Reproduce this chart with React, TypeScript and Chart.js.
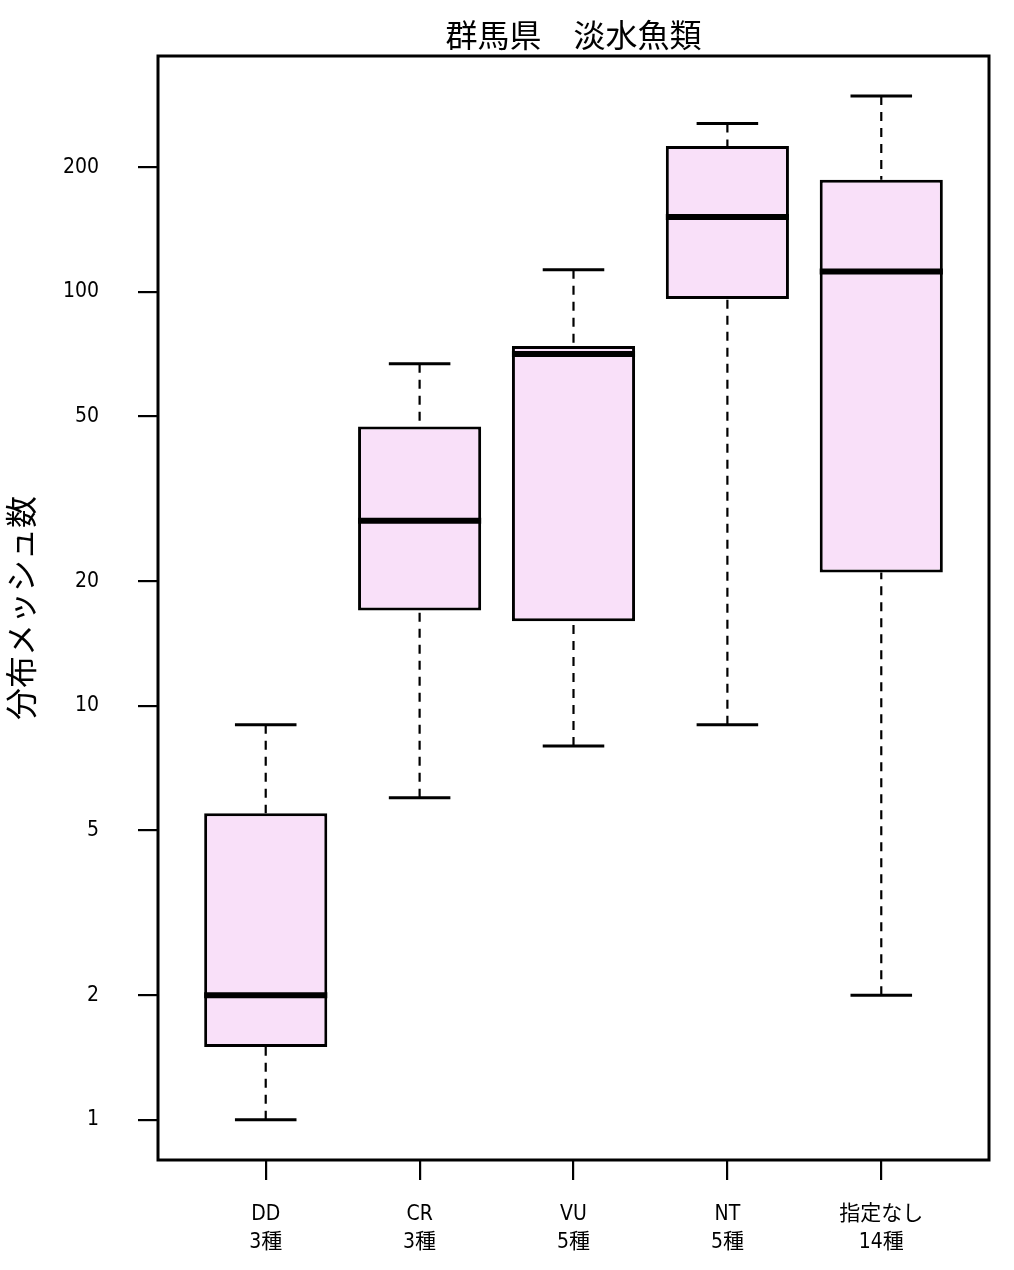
import React, { useEffect, useRef } from "react";
import { Chart, registerables } from "chart.js";

Chart.register(...registerables);

const categories = ["DD", "CR", "VU", "NT", "指定なし"];
const speciesCounts = ["3種", "3種", "5種", "5種", "14種"];
const whiskerLow = [1, 6, 8, 9, 2];
const q1 = [1.5, 17, 16, 96, 21];
const median = [2, 28, 70.7, 151.5, 112];
const q3 = [5.5, 47.3, 74, 225, 186.5];
const whiskerHigh = [9, 67, 113, 255, 297];
const yTicks = [1, 2, 5, 10, 20, 50, 100, 200];

const title = "群馬県　淡水魚類";
const yTitle = "分布メッシュ数";

const NARROW = "'Liberation Sans Narrow', 'DejaVu Sans Condensed', 'Noto Sans CJK JP', sans-serif";
const CJK = "'Noto Sans CJK JP', sans-serif";

const boxPlugin = {
  id: "boxExtras",
  afterDatasetsDraw(chart: any) {
    const { ctx, scales, chartArea } = chart;
    const xs = scales.x;
    const ys = scales.y;
    const meta = chart.getDatasetMeta(0);
    ctx.save();
    ctx.strokeStyle = "#000";
    categories.forEach((_, i) => {
      const x = xs.getPixelForValue(i + 1);
      const bar = meta.data[i];
      const half = bar ? bar.width / 2 : 60;
      const yLo = ys.getPixelForValue(whiskerLow[i]);
      const yQ1 = ys.getPixelForValue(q1[i]);
      const yQ3 = ys.getPixelForValue(q3[i]);
      const yHi = ys.getPixelForValue(whiskerHigh[i]);
      const yMed = ys.getPixelForValue(median[i]);
      // whiskers (dashed)
      ctx.lineWidth = 2.2;
      ctx.setLineDash([9, 7]);
      ctx.lineCap = "butt";
      ctx.beginPath();
      ctx.moveTo(x, yHi);
      ctx.lineTo(x, yQ3);
      ctx.moveTo(x, yLo);
      ctx.lineTo(x, yQ1);
      ctx.stroke();
      // caps
      ctx.setLineDash([]);
      ctx.lineWidth = 3;
      ctx.beginPath();
      ctx.moveTo(x - half / 2, yHi);
      ctx.lineTo(x + half / 2, yHi);
      ctx.moveTo(x - half / 2, yLo);
      ctx.lineTo(x + half / 2, yLo);
      ctx.stroke();
      // median
      ctx.lineWidth = 6;
      ctx.beginPath();
      ctx.moveTo(x - half, yMed);
      ctx.lineTo(x + half, yMed);
      ctx.stroke();
    });
    // frame
    ctx.lineWidth = 3;
    ctx.strokeRect(chartArea.left, chartArea.top, chartArea.right - chartArea.left, chartArea.bottom - chartArea.top);
    ctx.restore();
  },
  afterDraw(chart: any) {
    const { ctx, chartArea } = chart;
    ctx.save();
    ctx.fillStyle = "#000";
    ctx.font = `32px ${CJK}`;
    ctx.textAlign = "center";
    ctx.textBaseline = "middle";
    ctx.fillText(title, (chartArea.left + chartArea.right) / 2, 35);
    ctx.translate(21, (chartArea.top + chartArea.bottom) / 2);
    ctx.rotate(-Math.PI / 2);
    ctx.fillText(yTitle, 0, 0);
    ctx.restore();
  },
};

export default function App() {
  const ref = useRef<HTMLCanvasElement | null>(null);
  useEffect(() => {
    if (!ref.current) return;
    const chart = new Chart(ref.current, {
      type: "bar",
      data: {
        datasets: [
          {
            data: categories.map((_, i) => ({ x: i + 1, y: [q1[i], q3[i]] })) as any,
            backgroundColor: "rgb(249,224,249)",
            borderColor: "#000",
            borderWidth: 3,
            borderSkipped: false,
            categoryPercentage: 1,
            barPercentage: 0.8,
          } as any,
        ],
      },
      options: {
        responsive: false,
        animation: false,
        layout: { padding: { top: 56, right: 25, left: 0, bottom: 0 } },
        plugins: { legend: { display: false }, tooltip: { enabled: false }, title: { display: false } },
        scales: {
          x: {
            type: "linear",
            min: 0.3,
            max: 5.7,
            offset: false,
            afterBuildTicks: (s: any) => {
              s.ticks = categories.map((_, i) => ({ value: i + 1 }));
            },
            afterFit: (s: any) => {
              s.height = 110;
            },
            ticks: {
              autoSkip: false,
              maxRotation: 0,
              color: "#000",
              padding: 20,
              font: { family: NARROW, size: 21, lineHeight: 1.35 },
              callback: (v: any) => {
                const i = Math.round(Number(v)) - 1;
                return [categories[i], speciesCounts[i]];
              },
            },
            grid: { offset: false, drawOnChartArea: false, drawTicks: true, tickLength: 20, color: "#000", lineWidth: 2.2 },
            border: { display: false },
          },
          y: {
            type: "logarithmic",
            min: 0.8,
            max: 371,
            afterBuildTicks: (s: any) => {
              s.ticks = yTicks.map((v) => ({ value: v }));
            },
            afterFit: (s: any) => {
              s.width = 158;
            },
            ticks: {
              color: "#000",
              padding: 39,
              font: { family: NARROW, size: 21 },
              callback: (v: any) => String(v),
            },
            grid: { drawOnChartArea: false, drawTicks: true, tickLength: 20, color: "#000", lineWidth: 2.2 },
            border: { display: false },
          },
        },
      } as any,
      plugins: [boxPlugin],
    });
    return () => chart.destroy();
  }, []);
  return (
    <div style={{ position: "absolute", left: 0, top: 0, width: 1014, height: 1270, background: "#fff" }}>
      <canvas ref={ref} width={1014} height={1270} style={{ width: 1014, height: 1270, display: "block" }} />
    </div>
  );
}
